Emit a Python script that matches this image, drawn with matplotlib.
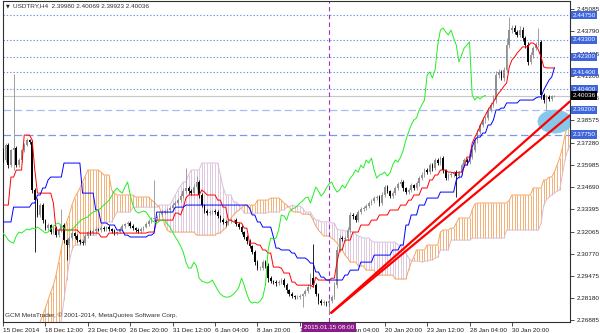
import numpy as np
import matplotlib
matplotlib.use("Agg")
import matplotlib.pyplot as plt
from matplotlib.patches import Ellipse

plt.rcParams['font.family'] = ['Liberation Sans', 'DejaVu Sans']

# ---------------- data ----------------
first_open = 2.3684
closes = [2.3626, 2.3714, 2.3596, 2.3684, 2.3696, 2.3596, 2.3626, 2.3684, 2.3714, 2.3743,
          2.3731, 2.3450, 2.3391, 2.3304, 2.3362, 2.3274, 2.3227, 2.3245, 2.3204, 2.3227,
          2.3186, 2.3216, 2.3245, 2.3157, 2.3128, 2.3169, 2.3198, 2.3181, 2.3157, 2.3145,
          2.3139, 2.3181, 2.3204, 2.3198, 2.3210, 2.3222, 2.3216, 2.3227, 2.3222, 2.3233,
          2.3222, 2.3210, 2.3198, 2.3204, 2.3222, 2.3239, 2.3251, 2.3257, 2.3239, 2.3227,
          2.3216, 2.3210, 2.3222, 2.3233, 2.3251, 2.3268, 2.3280, 2.3286, 2.3292, 2.3309,
          2.3321, 2.3327, 2.3333, 2.3345, 2.3362, 2.3374, 2.3391, 2.3415, 2.3444, 2.3462,
          2.3444, 2.3432, 2.3468, 2.3497, 2.3421, 2.3362, 2.3327, 2.3315, 2.3321, 2.3327,
          2.3321, 2.3298, 2.3274, 2.3263, 2.3257, 2.3268, 2.3274, 2.3274, 2.3251, 2.3233,
          2.3204, 2.3175, 2.3151, 2.3122, 2.3087, 2.3028, 2.2993, 2.2993, 2.3028, 2.3005,
          2.2934, 2.2917, 2.2911, 2.2905, 2.2911, 2.2923, 2.2893, 2.2864, 2.2841, 2.2829,
          2.2823, 2.2823, 2.2829, 2.2841, 2.2858, 2.2882, 2.2934, 2.2893, 2.2841, 2.2800,
          2.2788, 2.2794, 2.2788, 2.2800, 2.2823, 2.2893, 2.3099, 2.3169, 2.3163, 2.3169,
          2.3216, 2.3304, 2.3298, 2.3274, 2.3321, 2.3339, 2.3345, 2.3356, 2.3374, 2.3386,
          2.3403, 2.3409, 2.3374, 2.3421, 2.3468, 2.3444, 2.3415, 2.3432, 2.3462, 2.3485,
          2.3497, 2.3462, 2.3438, 2.3450, 2.3479, 2.3462, 2.3491, 2.3520, 2.3538, 2.3567,
          2.3555, 2.3596, 2.3579, 2.3626, 2.3608, 2.3637, 2.3567, 2.3520, 2.3538, 2.3544,
          2.3555, 2.3532, 2.3550, 2.3596, 2.3626, 2.3614, 2.3643, 2.3684, 2.3743, 2.3790,
          2.3831, 2.3860, 2.3872, 2.3919, 2.3948, 2.3977, 2.4124, 2.4141, 2.4106, 2.4153,
          2.4299, 2.4387, 2.4399, 2.4376, 2.4358, 2.4387, 2.4340, 2.4299, 2.4200, 2.4241,
          2.4282, 2.4299, 2.4317, 2.4006, 2.3977, 2.3995, 2.3983, 2.3998, 2.40036]
# upper / lower shadow lengths, in units of 0.0001
wick_up = [15, 10, 12, 8, 434, 10, 14, 9, 12, 10,
           8, 10, 12, 15, 10, 12, 9, 14, 8, 12,
           10, 12, 94, 10, 8, 12, 10, 9, 12, 8,
           10, 12, 8, 10, 9, 12, 8, 10, 12, 9,
           10, 8, 12, 9, 10, 12, 8, 10, 9, 12,
           8, 10, 12, 9, 10, 12, 15, 223, 10, 12,
           10, 8, 12, 10, 14, 10, 12, 15, 20, 117,
           12, 10, 15, 33, 10, 12, 8, 10, 12, 9,
           10, 12, 8, 10, 9, 12, 10, 8, 10, 12,
           10, 8, 12, 10, 9, 12, 15, 10, 12, 10,
           15, 10, 8, 12, 10, 9, 10, 12, 8, 10,
           9, 10, 12, 8, 10, 15, 30, 201, 10, 8,
           10, 12, 8, 10, 15, 20, 25, 15, 12, 10,
           15, 20, 12, 10, 12, 10, 9, 12, 10, 12,
           10, 12, 10, 15, 12, 10, 9, 12, 10, 12,
           15, 10, 8, 12, 10, 9, 12, 10, 15, 12,
           10, 15, 12, 10, 12, 15, 10, 8, 12, 10,
           9, 12, 10, 15, 12, 10, 12, 15, 20, 15,
           12, 15, 10, 20, 15, 30, 25, 15, 12, 20,
           40, 77, 20, 15, 12, 25, 15, 12, 20, 15,
           12, 15, 82, 10, 12, 10, 12, 8, 3.3]
wick_dn = [12, 10, 15, 10, 117, 12, 10, 9, 12, 8,
           10, 15, 304, 12, 10, 15, 12, 10, 9, 12,
           10, 9, 12, 15, 88, 10, 12, 10, 9, 12,
           10, 8, 12, 9, 10, 12, 8, 10, 9, 12,
           10, 12, 9, 10, 8, 12, 10, 9, 12, 10,
           12, 9, 10, 12, 8, 10, 12, 10, 9, 12,
           10, 12, 9, 10, 12, 8, 10, 12, 10, 12,
           15, 12, 10, 12, 15, 12, 10, 12, 9, 10,
           12, 10, 9, 12, 15, 10, 12, 10, 9, 12,
           10, 12, 15, 10, 12, 15, 12, 10, 9, 12,
           20, 12, 10, 15, 12, 10, 12, 15, 10, 12,
           10, 12, 9, 65, 12, 10, 9, 12, 10, 15,
           12, 10, 15, 59, 12, 10, 15, 12, 10, 12,
           10, 12, 15, 10, 12, 9, 10, 12, 10, 9,
           12, 10, 15, 12, 10, 12, 10, 9, 12, 10,
           12, 15, 10, 12, 9, 10, 12, 15, 10, 12,
           10, 12, 15, 10, 12, 10, 15, 12, 10, 12,
           15, 123, 12, 10, 12, 15, 10, 12, 10, 15,
           12, 10, 15, 12, 10, 12, 15, 20, 12, 15,
           12, 15, 20, 15, 12, 10, 15, 20, 15, 12,
           15, 12, 10, 20, 15, 58, 12, 10, 5.7]

# Ichimoku lines as (first bar, value) steps
tenkan_steps = [(0, 2.3362), (3, 2.3526), (5, 2.3567), (8, 2.3772), (11, 2.3743), (12, 2.3567),
                (13, 2.3432), (19, 2.3374), (20, 2.3216), (29, 2.3198), (37, 2.3175), (40, 2.3198),
                (55, 2.3204), (58, 2.3274), (65, 2.3315), (67, 2.3304), (68, 2.3345), (69, 2.3403),
                (70, 2.3421), (75, 2.3450), (76, 2.3438), (77, 2.3421), (81, 2.3391), (83, 2.3350),
                (85, 2.3274), (87, 2.3263), (89, 2.3257), (91, 2.3227), (93, 2.3139), (96, 2.3128),
                (98, 2.3099), (100, 2.3081), (102, 2.2999), (105, 2.2993), (106, 2.2964), (109, 2.2911),
                (111, 2.2893), (117, 2.2882), (118, 2.2940), (119, 2.2923), (124, 2.2934), (126, 2.3028),
                (127, 2.3099), (129, 2.3157), (132, 2.3204), (135, 2.3245), (139, 2.3274), (142, 2.3304),
                (146, 2.3333), (150, 2.3362), (153, 2.3391), (155, 2.3421), (158, 2.3462), (161, 2.3509),
                (163, 2.3538), (165, 2.3567), (168, 2.3555), (170, 2.3550), (172, 2.3555), (174, 2.3585),
                (175, 2.3643), (177, 2.3725), (178, 2.3760), (179, 2.3790), (180, 2.3825), (181, 2.3860),
                (182, 2.3889), (183, 2.3919), (184, 2.3942), (185, 2.3965), (186, 2.3995), (187, 2.4018),
                (188, 2.4036), (189, 2.4059), (190, 2.4077), (191, 2.4171), (192, 2.4212), (193, 2.4229),
                (194, 2.4253), (195, 2.4270), (196, 2.4288), (199, 2.4311), (201, 2.4299), (202, 2.4270),
                (203, 2.4229), (204, 2.4171), (205, 2.4165)]
kijun_steps = [(0, 2.3263), (4, 2.3350), (11, 2.3374), (13, 2.3421), (15, 2.3462), (17, 2.3509),
               (18, 2.3526), (23, 2.3608), (30, 2.3432), (35, 2.3333), (37, 2.3257), (40, 2.3245),
               (43, 2.3216), (46, 2.3186), (48, 2.3175), (55, 2.3186), (57, 2.3198), (58, 2.3321),
               (65, 2.3350), (69, 2.3362), (93, 2.3345), (94, 2.3304), (96, 2.3263), (98, 2.3233),
               (102, 2.3175), (103, 2.3110), (105, 2.3099), (109, 2.3081), (111, 2.3052), (115, 2.3040),
               (116, 2.3022), (118, 2.2970), (120, 2.2940), (122, 2.2923), (129, 2.2952), (131, 2.2981),
               (135, 2.3028), (140, 2.3069), (147, 2.3099), (150, 2.3128), (152, 2.3245), (154, 2.3304),
               (157, 2.3362), (160, 2.3403), (165, 2.3438), (171, 2.3509), (172, 2.3526), (174, 2.3596),
               (176, 2.3626), (177, 2.3702), (178, 2.3743), (179, 2.3760), (181, 2.3784), (183, 2.3831),
               (185, 2.3860), (186, 2.3919), (188, 2.3930), (190, 2.3960), (195, 2.3977), (201, 2.3989),
               (202, 2.3995), (204, 2.4036), (205, 2.4065), (206, 2.4094), (207, 2.4112), (208, 2.4165)]
span_a_steps = [(0, 2.2630), (14, 2.2677), (15, 2.2718), (16, 2.2759), (17, 2.2806), (18, 2.2852),
                (19, 2.2893), (20, 2.2952), (21, 2.3028), (22, 2.3110), (23, 2.3186), (24, 2.3263),
                (25, 2.3304), (26, 2.3362), (27, 2.3403), (28, 2.3432), (29, 2.3462), (30, 2.3497),
                (31, 2.3532), (32, 2.3567), (37, 2.3555), (38, 2.3538), (41, 2.3450), (42, 2.3432),
                (43, 2.3421), (50, 2.3409), (56, 2.3391), (57, 2.3380), (58, 2.3362), (59, 2.3350),
                (60, 2.3304), (61, 2.3245), (62, 2.3216), (63, 2.3204), (73, 2.3186), (81, 2.3198),
                (83, 2.3216), (84, 2.3227), (85, 2.3263), (86, 2.3286), (87, 2.3304), (88, 2.3321),
                (89, 2.3333), (90, 2.3345), (91, 2.3362), (96, 2.3391), (101, 2.3403), (105, 2.3391),
                (106, 2.3374), (107, 2.3362), (108, 2.3350), (109, 2.3327), (110, 2.3321), (113, 2.3309),
                (116, 2.3304), (117, 2.3274), (118, 2.3239), (119, 2.3216), (120, 2.3198), (121, 2.3181),
                (124, 2.3169), (125, 2.3157), (126, 2.3139), (127, 2.3116), (128, 2.3099), (129, 2.3069),
                (130, 2.3052), (131, 2.3028), (134, 2.3005), (137, 2.2981), (141, 2.2952), (148, 2.2929),
                (153, 2.2981), (154, 2.3028), (155, 2.3058), (156, 2.3099), (160, 2.3128), (165, 2.3204),
                (166, 2.3216), (169, 2.3227), (171, 2.3257), (172, 2.3286), (177, 2.3333), (178, 2.3368),
                (179, 2.3374), (191, 2.3391), (192, 2.3421), (200, 2.3462), (204, 2.3509), (206, 2.3526),
                (208, 2.3555), (209, 2.3596), (210, 2.3637), (211, 2.3696), (212, 2.3772), (213, 2.3831),
                (214, 2.3860)]
span_b_steps = [(0, 2.2601), (22, 2.2689), (23, 2.2806), (24, 2.2923), (25, 2.3028), (26, 2.3099),
                (27, 2.3128), (30, 2.3157), (31, 2.3186), (36, 2.3233), (38, 2.3263), (42, 2.3292),
                (43, 2.3321), (49, 2.3350), (59, 2.3362), (64, 2.3391), (65, 2.3421), (66, 2.3450),
                (67, 2.3473), (68, 2.3497), (70, 2.3538), (71, 2.3567), (75, 2.3608), (82, 2.3538),
                (83, 2.3468), (84, 2.3421), (87, 2.3380), (89, 2.3362), (90, 2.3345), (91, 2.3315),
                (100, 2.3321), (105, 2.3333), (107, 2.3350), (109, 2.3362), (110, 2.3356), (113, 2.3345),
                (114, 2.3321), (117, 2.3292), (118, 2.3274), (120, 2.3263), (124, 2.3257), (126, 2.3222),
                (127, 2.3216), (129, 2.3210), (132, 2.3204), (133, 2.3192), (134, 2.3181), (135, 2.3175),
                (136, 2.3169), (139, 2.3151), (140, 2.3145), (149, 2.3128), (152, 2.3081), (153, 2.3052),
                (154, 2.3034), (158, 2.3028), (159, 2.3034), (161, 2.3040), (163, 2.3052), (164, 2.3058),
                (165, 2.3099), (169, 2.3157), (177, 2.3169), (190, 2.3216), (203, 2.3257), (204, 2.3362),
                (205, 2.3391), (206, 2.3409), (207, 2.3421), (208, 2.3432), (209, 2.3444), (210, 2.3450),
                (211, 2.3538), (212, 2.3626), (213, 2.3684), (214, 2.3714)]
cloud_bars = 215
chikou_shift = 26

dotted_levels = [2.4475, 2.4330, 2.4230, 2.4140, 2.4040]
dashed_levels = [2.3920, 2.3775]
current_price = 2.40036
price_ticks = [2.45085, 2.43790, 2.42495, 2.41200, 2.39905, 2.38575, 2.37280, 2.35985,
               2.34690, 2.33395, 2.32065, 2.30770, 2.29475, 2.28180, 2.26885]
time_tick_bars = [0, 16, 32, 48, 64, 80, 96, 112, 128, 144, 160, 176, 192]
time_tick_labels = ['15 Dec 2014', '18 Dec 12:00', '23 Dec 04:00', '26 Dec 20:00', '31 Dec 12:00',
                    '6 Jan 04:00', '8 Jan 20:00', '13 Jan 12:00', '16 Jan 04:00', '20 Jan 20:00',
                    '23 Jan 12:00', '28 Jan 04:00', '30 Jan 20:00']
marker_bar = 123
marker_label = '2015.01.15 08:00'
trend_bars = [123.6, 214.0]
trend1_prices = [2.2728, 2.3971]
trend2_prices = [2.2728, 2.3889]
ellipse_bar, ellipse_price, ellipse_w, ellipse_h = 208.2, 2.3851, 12.8, 0.0135
title = 'USDTRY,H4  2.39980 2.40069 2.39923 2.40036'
copyright_text = 'GCM MetaTrader, \u00a9 2001-2014, MetaQuotes Software Corp.'


def expand(steps, n):
    out = np.empty(n)
    for k, (b, v) in enumerate(steps):
        end = steps[k + 1][0] if k + 1 < len(steps) else n
        out[b:end] = v
    return out


# ---------------- figure ----------------
W, H = 600, 333
fig = plt.figure(figsize=(W / 100, H / 100), dpi=100)
ax = fig.add_axes([3 / W, (H - 321.7) / H, 567 / W, 320.7 / H])
ax.set_xlim(0, 213.9)
ax.set_ylim(2.2679, 2.4557)

n = len(closes)
idx = np.arange(n)
c = np.array(closes)
o = np.concatenate([[first_open], c[:-1]])
hi = np.maximum(o, c) + np.array(wick_up) * 1e-4
lo = np.minimum(o, c) - np.array(wick_dn) * 1e-4

# cloud
cb = np.arange(cloud_bars)
sa = expand(span_a_steps, cloud_bars)
sb = expand(span_b_steps, cloud_bars)
up = sa >= sb
ax.vlines(cb[up], sb[up], sa[up], colors='#F4A460', lw=0.6, zorder=1)
ax.vlines(cb[~up], sa[~up], sb[~up], colors='#D8BFD8', lw=0.6, zorder=1)
ax.plot(cb, sa, color='#F4A460', lw=0.7, zorder=1.2)
ax.plot(cb, sb, color='#D8BFD8', lw=0.7, zorder=1.2)

# horizontal levels
for lv in dotted_levels:
    ax.axhline(lv, color='#6F8FE6', lw=0.8, ls=(0, (1.2, 1.8)), zorder=1.5)
ax.axhline(dashed_levels[0], color='#A8BDF2', lw=0.9, ls=(0, (6, 3)), zorder=1.5)
ax.axhline(dashed_levels[1], color='#7D98E8', lw=0.9, ls=(0, (6, 3)), zorder=1.5)
ax.axhline(current_price, color='#C8C8C8', lw=0.8, zorder=1.5)
ax.axvline(marker_bar, color='#A030C0', lw=0.8, ls=(0, (4, 3)), zorder=1.5)

# ellipse
ax.add_patch(Ellipse((ellipse_bar, ellipse_price), ellipse_w, ellipse_h,
                     fc='#87C8EA', ec='#87C8EA', lw=0.5, zorder=2))

# candles
bull = c >= o
col = np.where(bull, '#909090', '#000000')
ax.vlines(idx, lo, hi, colors=col, lw=0.6, zorder=3)
ax.bar(idx, np.maximum(np.abs(c - o), 0.00012), bottom=np.minimum(o, c), width=0.62,
       color=col, lw=0, zorder=3.1)

# ichimoku lines
ax.plot(idx, expand(tenkan_steps, n), color='#FF0000', lw=0.7, zorder=4)
ax.plot(idx, expand(kijun_steps, n), color='#0000FF', lw=0.7, zorder=4)
ax.plot(idx - chikou_shift, c, color='#22EE22', lw=0.7, zorder=4)

# trend lines
ax.plot(trend_bars, trend1_prices, color='#FF0000', lw=1.6, zorder=5, solid_capstyle='butt')
ax.plot(trend_bars, trend2_prices, color='#FF0000', lw=1.6, zorder=5, solid_capstyle='butt')

# axes styling
for s in ax.spines.values():
    s.set_color('#303030')
    s.set_linewidth(0.8)
ax.yaxis.tick_right()
ax.set_yticks(price_ticks)
ax.set_yticklabels([f'{p:.5f}' for p in price_ticks])
ax.set_xticks(time_tick_bars)
ax.set_xticklabels(time_tick_labels, ha='left')
ax.tick_params(axis='both', length=3, width=0.6, color='#303030', labelsize=4.6,
               labelcolor='#202020', direction='out')
ax.tick_params(axis='x', pad=1.2)
ax.tick_params(axis='y', pad=1.5)

# highlighted price labels
ytr = ax.get_yaxis_transform()
for lv in dotted_levels + dashed_levels:
    ax.text(1.0045, lv, f'{lv:.5f}', transform=ytr, ha='left', va='center', fontsize=4.6,
            color='white', zorder=10, clip_on=False,
            bbox=dict(boxstyle='square,pad=0.25', fc='#3F65DC', ec='none'))
ax.text(1.0045, current_price, f'{current_price:.5f}', transform=ytr, ha='left', va='center',
        fontsize=4.6, color='white', zorder=11, clip_on=False,
        bbox=dict(boxstyle='square,pad=0.25', fc='#000000', ec='none'))

# time marker label
ax.text(marker_bar, -0.0175, marker_label, transform=ax.get_xaxis_transform(), ha='center',
        va='center', fontsize=4.6, color='white', zorder=10, clip_on=False,
        bbox=dict(boxstyle='square,pad=0.3', fc='#8B1A8B', ec='none'))

# title and copyright
ax.text(0.006, 0.984, '\u25bc', transform=ax.transAxes, fontsize=3.5, color='#202020',
        va='center', ha='left', family=['DejaVu Sans'])
ax.text(0.018, 0.984, title, transform=ax.transAxes, fontsize=4.6, color='#303030',
        va='center', ha='left')
ax.text(0.004, 0.021, copyright_text, transform=ax.transAxes, fontsize=4.6, color='#303030',
        va='center', ha='left')

fig.savefig('out.png', dpi=100, facecolor='white')
